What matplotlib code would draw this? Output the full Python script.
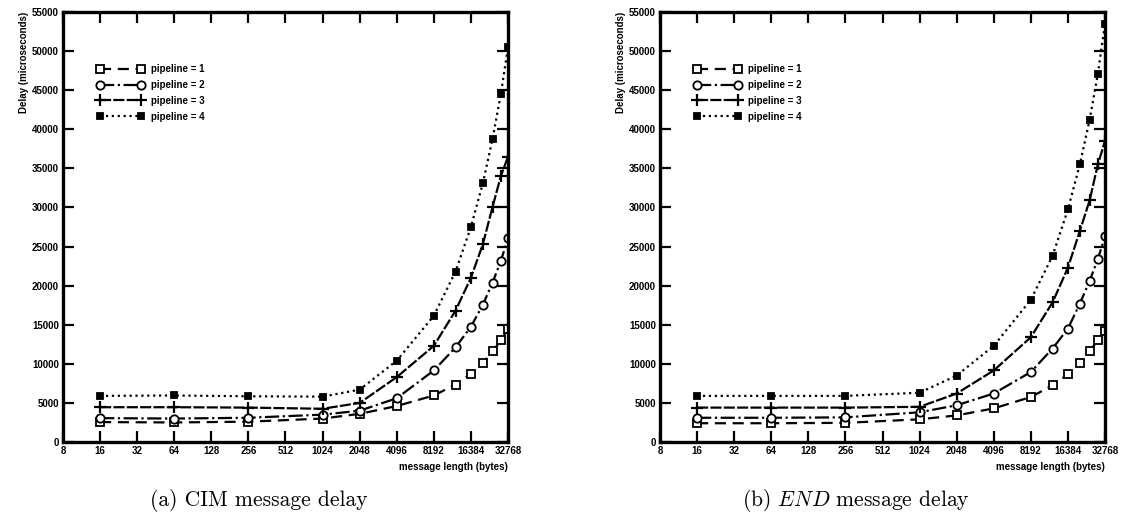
import matplotlib
matplotlib.use("Agg")
import matplotlib.pyplot as plt
from matplotlib.ticker import FixedLocator, NullLocator

plt.rcParams['font.family'] = ['Liberation Sans', 'DejaVu Sans']
plt.rcParams['mathtext.fontset'] = 'cm'

# message sizes (bytes)
sizes = [16, 64, 256, 1024, 2048, 4096, 8192, 12288, 16384, 20480, 24576, 28672, 32768]
xticks = [8, 16, 32, 64, 128, 256, 512, 1024, 2048, 4096, 8192, 16384, 32768]
yticks = list(range(0, 55001, 5000))

# (a) CIM delay, microseconds
cim_p1 = [2550, 2500, 2600, 3000, 3600, 4600, 5950, 7350, 8750, 10100, 11600, 13000, 14500]
cim_p2 = [3050, 3000, 3100, 3500, 4000, 5600, 9150, 12100, 14750, 17550, 20400, 23150, 26100]
cim_p3 = [4450, 4450, 4400, 4250, 5000, 8300, 12300, 16800, 21000, 25300, 30100, 34000, 36500]
cim_p4 = [5900, 5950, 5850, 5800, 6700, 10400, 16150, 21800, 27500, 33100, 38800, 44500, 50500]

# (b) END delay, microseconds
end_p1 = [2400, 2400, 2450, 2900, 3400, 4300, 5750, 7250, 8650, 10050, 11600, 13000, 14200]
end_p2 = [3100, 3100, 3150, 3800, 4700, 6200, 8950, 11950, 14500, 17700, 20600, 23400, 26300]
end_p3 = [4400, 4400, 4400, 4500, 6200, 9150, 13400, 17850, 22300, 27000, 30900, 35500, 38500]
end_p4 = [5900, 5900, 5900, 6300, 8500, 12300, 18200, 23800, 29750, 35500, 41200, 47100, 53500]

labels = ['pipeline = 1', 'pipeline = 2', 'pipeline = 3', 'pipeline = 4']
styles = [
    dict(ls=(0, (5, 3)), marker='s', mfc='white', ms=6, mew=1.3),
    dict(ls='-.', marker='o', mfc='white', ms=6, mew=1.3),
    dict(ls=(0, (5, 1)), marker='+', ms=8, mew=1.6),
    dict(ls=':', marker='s', mfc='black', ms=5, mew=1.3),
]

fig = plt.figure(figsize=(11.23, 5.29), dpi=100)


def draw(rect, series, caption):
    ax = fig.add_axes(rect)
    for ys, lab, st in zip(series, labels, styles):
        ax.plot(sizes, ys, color='black', lw=1.6, mec='black', label=lab, **st)
    ax.set_xscale('log', base=2)
    ax.set_xlim(8, 32768)
    ax.set_ylim(0, 55000)
    ax.xaxis.set_major_locator(FixedLocator(xticks))
    ax.xaxis.set_minor_locator(NullLocator())
    ax.set_xticklabels([str(v) for v in xticks])
    ax.set_yticks(yticks)
    ax.set_yticklabels([str(v) for v in yticks])
    ax.tick_params(direction='in', length=8, width=1.6, top=True, right=True,
                   labelsize=7, pad=3)
    for lbl in ax.get_xticklabels() + ax.get_yticklabels():
        lbl.set_fontweight('bold')
    for sp in ax.spines.values():
        sp.set_linewidth(2.4)
    ax.set_ylabel('Delay (microseconds)', loc='top', fontsize=7, fontweight='bold', labelpad=2)
    ax.set_xlabel('message length (bytes)', loc='right', fontsize=7, fontweight='bold', labelpad=4)
    ax.legend(loc='upper left', bbox_to_anchor=(0.065, 0.89), frameon=False,
              prop={'weight': 'bold', 'size': 7}, numpoints=2, handlelength=4.8,
              handletextpad=0.8, labelspacing=0.6, borderpad=0)
    cx = rect[0] + rect[2] * 0.44
    fig.text(cx, 1 - 500 / 529, caption, ha='center', va='center', fontsize=15.5,
             family='cmr10')
    return ax


draw([63 / 1123, 87 / 529, 445 / 1123, 430 / 529],
     [cim_p1, cim_p2, cim_p3, cim_p4], '(a) CIM message delay')
draw([660 / 1123, 87 / 529, 445 / 1123, 430 / 529],
     [end_p1, end_p2, end_p3, end_p4], r'(b) $\mathit{END}$ message delay')

fig.savefig('out.png', dpi=100)
